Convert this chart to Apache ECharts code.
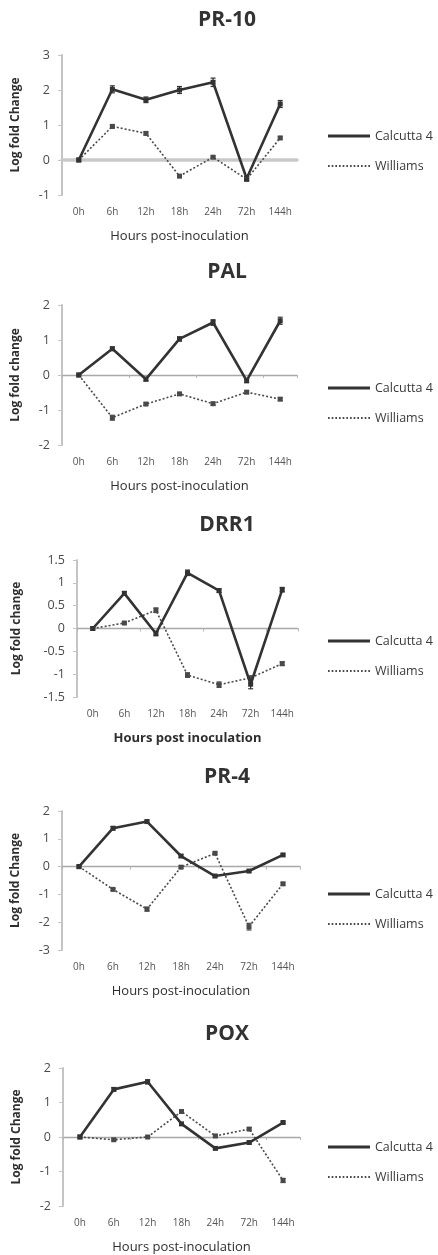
<!DOCTYPE html>
<html><head><meta charset="utf-8">
<script src="https://cdn.jsdelivr.net/npm/echarts@6/dist/echarts.min.js"></script>
<style>html,body{margin:0;padding:0;background:#fff}#c{width:438px;height:1255px}</style>
</head><body><div id="c"></div>
<script>
// ---------- data ----------
const categories = ['0h', '6h', '12h', '18h', '24h', '72h', '144h'];
const seriesNames = ['Calcutta 4', 'Williams'];

const pr10Calcutta    = [0, 2.02, 1.72, 2.00, 2.22, -0.53, 1.60];
const pr10CalcuttaErr = [0, 0.10, 0.08, 0.10, 0.12, 0.06, 0.10];
const pr10Williams    = [0, 0.96, 0.76, -0.46, 0.08, -0.55, 0.63];
const pr10WilliamsErr = [0, 0.05, 0.04, 0.04, 0.03, 0.05, 0.04];

const palCalcutta    = [0, 0.75, -0.12, 1.03, 1.50, -0.16, 1.55];
const palCalcuttaErr = [0, 0.05, 0.05, 0.06, 0.08, 0.06, 0.10];
const palWilliams    = [0, -1.22, -0.83, -0.54, -0.82, -0.49, -0.69];
const palWilliamsErr = [0, 0.07, 0.04, 0.04, 0.04, 0.04, 0.04];

const drr1Calcutta    = [0, 0.77, -0.11, 1.22, 0.83, -1.22, 0.85];
const drr1CalcuttaErr = [0, 0.04, 0.05, 0.06, 0.04, 0.10, 0.05];
const drr1Williams    = [0, 0.12, 0.40, -1.02, -1.23, -1.08, -0.77];
const drr1WilliamsErr = [0, 0.02, 0.05, 0.05, 0.06, 0.04, 0.04];

const pr4Calcutta    = [0, 1.38, 1.62, 0.38, -0.34, -0.16, 0.42];
const pr4CalcuttaErr = [0, 0.06, 0.05, 0.05, 0.04, 0.04, 0.04];
const pr4Williams    = [0, -0.82, -1.53, -0.02, 0.48, -2.16, -0.62];
const pr4WilliamsErr = [0, 0.04, 0.07, 0.04, 0.04, 0.12, 0.05];

const poxCalcutta    = [0, 1.38, 1.60, 0.38, -0.33, -0.16, 0.42];
const poxCalcuttaErr = [0, 0.05, 0.06, 0.04, 0.03, 0.04, 0.03];
const poxWilliams    = [0, -0.08, 0, 0.74, 0.03, 0.23, -1.26];
const poxWilliamsErr = [0, 0.03, 0.02, 0.05, 0.03, 0.04, 0.06];

const panelTitles = ['PR-10', 'PAL', 'DRR1', 'PR-4', 'POX'];
const yAxisNames  = ['Log fold Change', 'Log fold change', 'Log fold change', 'Log fold Change', 'Log fold Change'];
const xAxisNames  = ['Hours post-inoculation', 'Hours post-inoculation', 'Hours post inoculation', 'Hours post-inoculation', 'Hours post-inoculation'];
const yRanges     = [[-1, 3, 1], [-2, 2, 1], [-1.5, 1.5, 0.5], [-3, 2, 1], [-2, 2, 1]];

const panelData = [
  [pr10Calcutta, pr10CalcuttaErr, pr10Williams, pr10WilliamsErr],
  [palCalcutta, palCalcuttaErr, palWilliams, palWilliamsErr],
  [drr1Calcutta, drr1CalcuttaErr, drr1Williams, drr1WilliamsErr],
  [pr4Calcutta, pr4CalcuttaErr, pr4Williams, pr4WilliamsErr],
  [poxCalcutta, poxCalcuttaErr, poxWilliams, poxWilliamsErr]
];

// ---------- layout / style ----------
const layouts = [
  { titleTop: 5,    grid: { left: 62, top: 55,   width: 235, height: 140 }, legendTop: 124,  yNameGap: 40, zero: { color: '#c9c9c9', width: 3.5 }, ticks: false, xBold: false },
  { titleTop: 257,  grid: { left: 62, top: 305,  width: 235, height: 140 }, legendTop: 376,  yNameGap: 40, zero: { color: '#a8a8a8', width: 1.3 }, ticks: true,  xBold: false },
  { titleTop: 510,  grid: { left: 77, top: 560,  width: 221, height: 137 }, legendTop: 629,  yNameGap: 54, zero: { color: '#a8a8a8', width: 1.3 }, ticks: true,  xBold: true },
  { titleTop: 762,  grid: { left: 62, top: 811,  width: 238, height: 139 }, legendTop: 882,  yNameGap: 40, zero: { color: '#a8a8a8', width: 1.3 }, ticks: true,  xBold: false },
  { titleTop: 1019, grid: { left: 63, top: 1068, width: 237, height: 140 }, legendTop: 1135, yNameGap: 40, zero: { color: '#a8a8a8', width: 1.3 }, ticks: true,  xBold: false }
];

const FONT = '"Open Sans", "Liberation Sans", sans-serif';
const lineColors = ['#333333', '#4a4a4a'];

function dottedPath(w) {
  let p = 'path://';
  for (let x = 0; x < w; x += 3.5) p += 'M' + x + ',0H' + (x + 1.6) + 'V2H' + x + 'Z';
  return p;
}
const legendIcons = ['path://M0,0H42V3H0Z', dottedPath(42)];

const option = {
  backgroundColor: '#ffffff',
  animation: false,
  title: [], grid: [], xAxis: [], yAxis: [], legend: [], series: []
};

function errorRender(params, api) {
  const x = api.value(0), v = api.value(1), e = api.value(2);
  if (!e) return null;
  const top = api.coord([x, v + e]);
  const bot = api.coord([x, v - e]);
  const c = api.style().fill;
  const half = 2.5;
  return {
    type: 'group',
    children: [
      { type: 'line', shape: { x1: top[0], y1: top[1], x2: bot[0], y2: bot[1] }, style: { stroke: c, lineWidth: 1.2 } },
      { type: 'line', shape: { x1: top[0] - half, y1: top[1], x2: top[0] + half, y2: top[1] }, style: { stroke: c, lineWidth: 1.2 } },
      { type: 'line', shape: { x1: bot[0] - half, y1: bot[1], x2: bot[0] + half, y2: bot[1] }, style: { stroke: c, lineWidth: 1.2 } }
    ]
  };
}

panelTitles.forEach((t, i) => {
  const L = layouts[i];
  const [ymin, ymax, yint] = yRanges[i];
  option.title.push({
    text: t, left: 222, top: L.titleTop, textAlign: 'center',
    textStyle: { fontFamily: FONT, fontSize: 21, fontWeight: 'bold', color: '#333' }
  });
  option.grid.push(Object.assign({ containLabel: false }, L.grid));
  // label axis (bottom)
  option.xAxis.push({
    gridIndex: i, type: 'category', data: categories, position: 'bottom',
    axisLine: { show: false, onZero: false }, axisTick: { show: false },
    axisLabel: { fontFamily: FONT, fontSize: 10, color: '#555', margin: 12 },
    name: xAxisNames[i], nameLocation: 'middle', nameGap: 35,
    nameTextStyle: { fontFamily: FONT, fontSize: 13, color: '#2e2e2e', fontWeight: L.xBold ? 'bold' : 'normal' },
    splitLine: { show: false }
  });
  // zero-line axis
  option.xAxis.push({
    gridIndex: i, type: 'category', data: categories, position: 'bottom',
    axisLine: { show: true, onZero: true, lineStyle: { color: L.zero.color, width: L.zero.width } },
    axisTick: { show: L.ticks, length: 3, lineStyle: { color: '#b5b5b5' } },
    axisLabel: { show: false }, splitLine: { show: false }
  });
  option.yAxis.push({
    gridIndex: i, type: 'value', min: ymin, max: ymax, interval: yint,
    axisLine: { show: true, lineStyle: { color: '#c4c4c4', width: 2 } },
    axisTick: { show: true, length: 4, lineStyle: { color: '#c4c4c4' } },
    axisLabel: { fontFamily: FONT, fontSize: 12.5, color: '#4a4a4a', margin: 12 },
    splitLine: { show: false },
    name: yAxisNames[i], nameLocation: 'middle', nameGap: L.yNameGap, nameRotate: 90,
    nameTextStyle: { fontFamily: FONT, fontSize: 12, color: '#2e2e2e', fontWeight: 'bold' }
  });
  option.legend.push({
    orient: 'vertical', left: 323, top: L.legendTop, itemWidth: 42, itemHeight: 3, itemGap: 16,
    selectedMode: false,
    textStyle: { fontFamily: FONT, fontSize: 12.5, color: '#3a3a3a', lineHeight: 14 },
    data: seriesNames.map((n, k) => ({ name: n, icon: legendIcons[k] }))
  });
  const d = panelData[i];
  const xIdx = i * 2, yIdx = i;
  [[d[2], d[3], 1], [d[0], d[1], 0]].forEach(([vals, errs, k]) => {
    option.series.push({
      type: 'line', name: seriesNames[k], xAxisIndex: xIdx, yAxisIndex: yIdx,
      data: vals, symbol: 'rect', symbolSize: 5, showSymbol: true,
      itemStyle: { color: lineColors[k] },
      lineStyle: { color: lineColors[k], width: k === 0 ? 2.6 : 1.6, type: k === 0 ? 'solid' : [2, 2] },
      z: k === 0 ? 4 : 3
    });
    option.series.push({
      type: 'custom', name: seriesNames[k] + ' error', xAxisIndex: xIdx, yAxisIndex: yIdx,
      renderItem: errorRender, itemStyle: { color: lineColors[k] },
      encode: { x: 0, y: 1 },
      data: vals.map((v, j) => [j, v, errs[j]]), z: 5, silent: true
    });
  });
});

const chart = echarts.init(document.getElementById('c'), null, { renderer: 'canvas' });
chart.setOption(option);
</script></body></html>
